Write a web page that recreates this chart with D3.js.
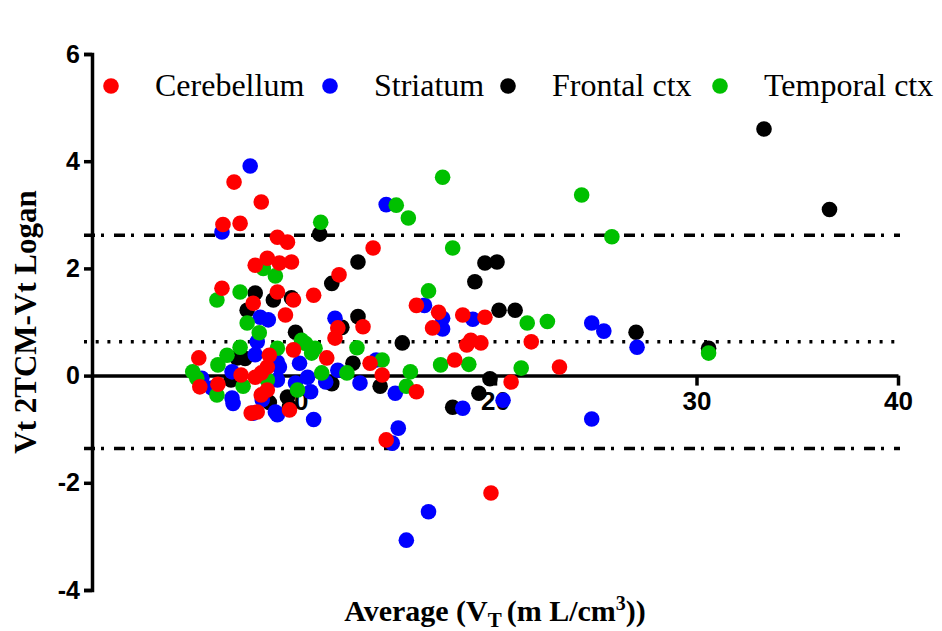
<!DOCTYPE html>
<html>
<head>
<meta charset="utf-8">
<script src="https://cdn.jsdelivr.net/npm/d3@7"></script>
<style>
  body { margin: 0; background: #fff; }
  svg { display: block; }
</style>
</head>
<body>
<svg id="chart" width="942" height="631"></svg>
<script>
// [average, difference] per region
const cerebellum = [
  [7.05,3.61],[8.4,3.24],[6.5,2.82],[7.35,2.84],[9.2,2.58],[9.7,2.49],[8.1,2.06],[8.7,2.19],
  [9.3,2.1],[9.9,2.12],[9.2,1.56],[10.0,1.41],[9.6,1.13],[8.0,1.35],[6.45,1.63],[11.0,1.5],
  [5.3,0.33],[5.35,-0.21],[6.25,-0.16],[7.4,0.01],[8.1,-0.03],[8.7,0.16],[8.8,0.38],[8.7,-0.27],
  [10.0,0.48],[9.8,-0.64],[8.2,-0.68],[8.4,-0.36],[7.9,-0.7],[13.95,2.38],[12.26,1.88],[12.2,0.89],
  [12.06,0.7],[13.45,0.91],[11.65,0.33],[13.8,0.23],[14.4,0.01],[16.1,1.31],[16.1,-0.3],[17.2,1.18],
  [16.9,0.89],[18.4,1.13],[19.5,1.09],[18.8,0.66],[19.3,0.61],[18.6,0.57],[18.0,0.29],[21.8,0.63],
  [23.2,0.16],[20.8,-0.12],[14.6,-1.2],[19.8,-2.19],[8.4,0.05]
];
const striatum = [
  [7.85,3.91],[6.45,2.68],[14.6,3.19],[16.5,1.31],[17.4,1.07],[17.4,0.87],[18.9,1.05],[24.8,0.98],
  [25.4,0.83],[27.05,0.53],[20.4,-0.46],[18.4,-0.61],[24.8,-0.81],[15.2,-0.98],[14.9,-1.26],[16.7,-2.54],
  [15.6,-3.07],[15.05,-0.33],[13.3,-0.14],[14.1,0.29],[12.2,0.1],[11.6,-0.12],[12.06,1.07],[11.0,-0.82],
  [10.85,-0.3],[5.45,-0.05],[5.95,-0.23],[6.95,0.07],[6.95,-0.42],[8.35,1.09],[8.75,1.04],[8.2,0.63],
  [8.1,0.39],[9.3,0.16],[9.2,-0.08],[8.45,-0.45],[9.2,-0.73],[10.1,-0.14],[10.3,0.23],[7.0,-0.52],
  [9.2,0.25],[9.1,-0.68],[8.0,-0.7],[10.7,-0.03]
];
const frontalCtx = [
  [33.35,4.6],[36.6,3.1],[11.3,2.64],[13.2,2.12],[11.9,1.72],[19.5,2.1],[20.1,2.12],[19.0,1.75],
  [20.2,1.22],[21.0,1.22],[15.4,0.61],[27.0,0.81],[30.6,0.51],[19.75,-0.06],[19.2,-0.33],[17.9,-0.59],
  [14.3,-0.2],[13.2,1.1],[12.95,0.23],[11.9,-0.15],[12.4,0.9],[10.1,0.81],[8.1,1.54],[9.0,1.41],
  [9.9,1.45],[7.7,1.22],[7.2,0.33],[6.9,-0.08],[9.7,-0.4],[8.8,-0.5],[7.6,0.32],[9.8,-0.58]
];
const temporalCtx = [
  [17.4,3.7],[15.1,3.18],[15.7,2.94],[11.35,2.86],[17.9,2.38],[24.3,3.37],[25.8,2.59],[30.6,0.42],
  [16.7,1.58],[21.6,0.98],[22.6,1.01],[17.3,0.2],[18.7,0.21],[21.3,0.14],[15.8,0.07],[15.6,-0.2],
  [13.15,0.52],[14.4,0.29],[12.65,0.05],[10.6,0.6],[10.9,0.42],[11.4,0.05],[6.2,1.41],[7.35,1.56],
  [8.5,2.0],[9.1,1.86],[7.7,0.98],[8.3,0.8],[7.35,0.53],[6.7,0.38],[6.25,0.2],[5.0,0.07],
  [6.2,-0.36],[10.4,0.66],[11.07,0.51],[9.2,0.51],[10.2,-0.27],[7.5,-0.2],[8.7,-0.08],[5.2,-0.05]
];

const regionNames = ["Cerebellum", "Striatum", "Frontal ctx", "Temporal ctx"];
const regionColors = ["#ff0000", "#0000ff", "#000000", "#00c000"];
const xTicks = [10, 20, 30, 40];
const yTicks = [-4, -2, 0, 2, 4, 6];
const meanDiff = 0.63;
const upperLoA = 2.62;
const lowerLoA = -1.36;

const svg = d3.select("#chart");
const x = d3.scaleLinear().domain([0, 40]).range([92, 898]);
const y = d3.scaleLinear().domain([-4, 6]).range([590, 54]);

// reference lines
const refLine = (val, dash) => {
  svg.append("line")
    .attr("x1", 84).attr("x2", 900)
    .attr("y1", y(val)).attr("y2", y(val))
    .attr("stroke", "#000")
    .attr("stroke-width", 3.5)
    .attr("stroke-dasharray", dash);
};
refLine(upperLoA, "11,6,3,10");
refLine(lowerLoA, "11,6,3,10");
refLine(meanDiff, "3,8.7");

const tickFont = (sel, size) => sel.selectAll("text")
  .attr("font-family", "Liberation Sans, Arial, sans-serif")
  .attr("font-weight", "bold")
  .attr("font-size", size)
  .attr("fill", "#000");

// y axis
const yAxis = d3.axisLeft(y).tickValues(yTicks).tickSize(8).tickPadding(4)
  .tickFormat((d) => String(d));
const gy = svg.append("g").attr("transform", `translate(${x(0)},0)`).call(yAxis);
gy.select(".domain").attr("stroke-width", 3.5);
gy.selectAll(".tick line").attr("stroke-width", 3.5);
tickFont(gy, 25);

// x axis sits on y = 0
const xAxis = d3.axisBottom(x).tickValues(xTicks).tickSize(10).tickPadding(6).tickSizeOuter(0)
  .tickFormat((d) => String(d));
const gx = svg.append("g").attr("transform", `translate(0,${y(0)})`).call(xAxis);
gx.select(".domain").attr("stroke-width", 3.5);
gx.selectAll(".tick line").attr("stroke-width", 3.5);
tickFont(gx, 26);

// points: drawn black, blue, green, red (red on top)
const drawOrder = [2, 1, 3, 0];
const allSeries = [cerebellum, striatum, frontalCtx, temporalCtx];
drawOrder.forEach((k) => {
  svg.append("g")
    .selectAll("circle")
    .data(allSeries[k])
    .enter()
    .append("circle")
    .attr("cx", (d) => x(d[0]))
    .attr("cy", (d) => y(d[1]))
    .attr("r", 7.8)
    .attr("fill", regionColors[k]);
});

// legend
const legendX = [111, 330, 508, 720];
const legend = svg.append("g");
regionNames.forEach((name, i) => {
  legend.append("circle")
    .attr("cx", legendX[i]).attr("cy", 86).attr("r", 7.8)
    .attr("fill", regionColors[i]);
  legend.append("text")
    .attr("x", legendX[i] + 44).attr("y", 96)
    .attr("font-family", "Liberation Serif, Times New Roman, serif")
    .attr("font-size", 32)
    .attr("fill", "#000")
    .text(name);
});

// axis titles
svg.append("text")
  .attr("transform", "translate(36,322) rotate(-90)")
  .attr("text-anchor", "middle")
  .attr("font-family", "Liberation Serif, Times New Roman, serif")
  .attr("font-weight", "bold")
  .attr("font-size", 31)
  .attr("fill", "#000")
  .text("Vt 2TCM-Vt Logan");

const xt = svg.append("text")
  .attr("x", 495).attr("y", 621)
  .attr("text-anchor", "middle")
  .attr("font-family", "Liberation Serif, Times New Roman, serif")
  .attr("font-weight", "bold")
  .attr("font-size", 30)
  .attr("fill", "#000");
xt.append("tspan").text("Average (V");
xt.append("tspan").attr("font-size", 21).attr("dy", 6).text("T ");
xt.append("tspan").attr("dy", -6).text("(m L/cm");
xt.append("tspan").attr("font-size", 20).attr("dy", -11).text("3");
xt.append("tspan").attr("dy", 11).text("))");
</script>
</body>
</html>
